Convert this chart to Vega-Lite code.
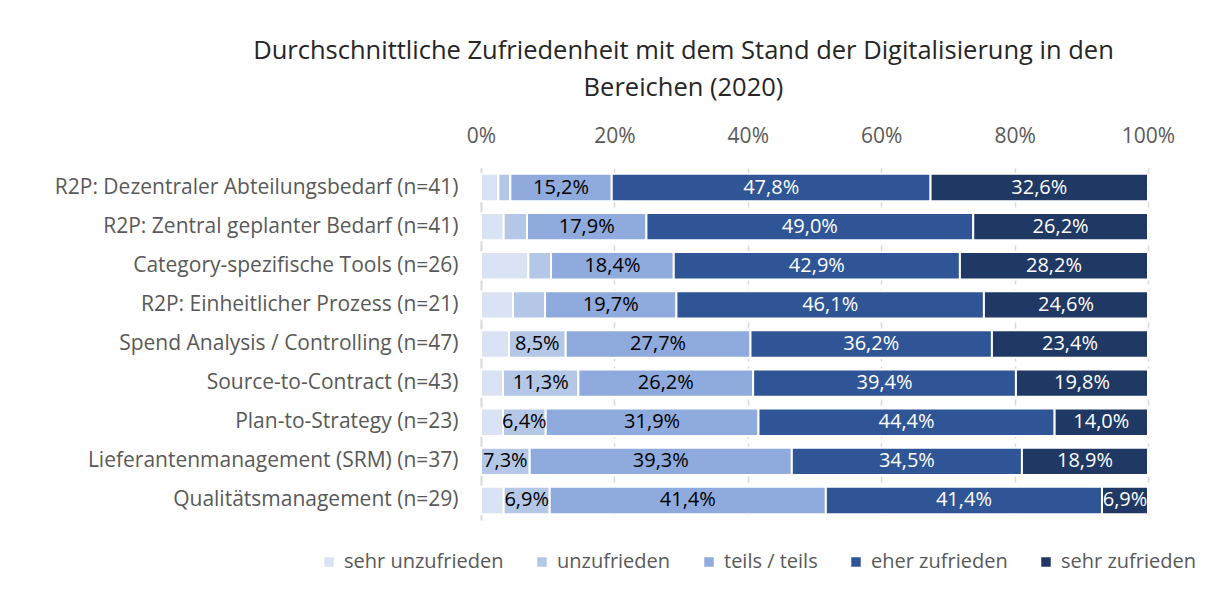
{
  "$schema": "https://vega.github.io/schema/vega-lite/v6.json",
  "width": 667,
  "height": 352,
  "autosize": {"type": "none"},
  "padding": {"left": 481, "top": 168, "right": 59, "bottom": 90},
  "background": "white",
  "title": {
    "text": ["Durchschnittliche Zufriedenheit mit dem Stand der Digitalisierung in den", "Bereichen (2020)"],
    "font": "Open Sans",
    "fontSize": 25.5,
    "fontWeight": "normal",
    "color": "#262626",
    "anchor": "middle",
    "dx": -131,
    "offset": 24,
    "lineHeight": 37
  },
  "config": {
    "view": {"stroke": null},
    "font": "Open Sans"
  },
  "data": {
    "values": [
      {"cat": "R2P: Dezentraler Abteilungsbedarf (n=41)", "level": "sehr unzufrieden", "o": 1, "value": 2.6},
      {"cat": "R2P: Dezentraler Abteilungsbedarf (n=41)", "level": "unzufrieden", "o": 2, "value": 1.8},
      {"cat": "R2P: Dezentraler Abteilungsbedarf (n=41)", "level": "teils / teils", "o": 3, "value": 15.2},
      {"cat": "R2P: Dezentraler Abteilungsbedarf (n=41)", "level": "eher zufrieden", "o": 4, "value": 47.8},
      {"cat": "R2P: Dezentraler Abteilungsbedarf (n=41)", "level": "sehr zufrieden", "o": 5, "value": 32.6},
      {"cat": "R2P: Zentral geplanter Bedarf (n=41)", "level": "sehr unzufrieden", "o": 1, "value": 3.4},
      {"cat": "R2P: Zentral geplanter Bedarf (n=41)", "level": "unzufrieden", "o": 2, "value": 3.5},
      {"cat": "R2P: Zentral geplanter Bedarf (n=41)", "level": "teils / teils", "o": 3, "value": 17.9},
      {"cat": "R2P: Zentral geplanter Bedarf (n=41)", "level": "eher zufrieden", "o": 4, "value": 49.0},
      {"cat": "R2P: Zentral geplanter Bedarf (n=41)", "level": "sehr zufrieden", "o": 5, "value": 26.2},
      {"cat": "Category-spezifische Tools (n=26)", "level": "sehr unzufrieden", "o": 1, "value": 7.1},
      {"cat": "Category-spezifische Tools (n=26)", "level": "unzufrieden", "o": 2, "value": 3.4},
      {"cat": "Category-spezifische Tools (n=26)", "level": "teils / teils", "o": 3, "value": 18.4},
      {"cat": "Category-spezifische Tools (n=26)", "level": "eher zufrieden", "o": 4, "value": 42.9},
      {"cat": "Category-spezifische Tools (n=26)", "level": "sehr zufrieden", "o": 5, "value": 28.2},
      {"cat": "R2P: Einheitlicher Prozess (n=21)", "level": "sehr unzufrieden", "o": 1, "value": 4.8},
      {"cat": "R2P: Einheitlicher Prozess (n=21)", "level": "unzufrieden", "o": 2, "value": 4.8},
      {"cat": "R2P: Einheitlicher Prozess (n=21)", "level": "teils / teils", "o": 3, "value": 19.7},
      {"cat": "R2P: Einheitlicher Prozess (n=21)", "level": "eher zufrieden", "o": 4, "value": 46.1},
      {"cat": "R2P: Einheitlicher Prozess (n=21)", "level": "sehr zufrieden", "o": 5, "value": 24.6},
      {"cat": "Spend Analysis / Controlling (n=47)", "level": "sehr unzufrieden", "o": 1, "value": 4.2},
      {"cat": "Spend Analysis / Controlling (n=47)", "level": "unzufrieden", "o": 2, "value": 8.5},
      {"cat": "Spend Analysis / Controlling (n=47)", "level": "teils / teils", "o": 3, "value": 27.7},
      {"cat": "Spend Analysis / Controlling (n=47)", "level": "eher zufrieden", "o": 4, "value": 36.2},
      {"cat": "Spend Analysis / Controlling (n=47)", "level": "sehr zufrieden", "o": 5, "value": 23.4},
      {"cat": "Source-to-Contract (n=43)", "level": "sehr unzufrieden", "o": 1, "value": 3.3},
      {"cat": "Source-to-Contract (n=43)", "level": "unzufrieden", "o": 2, "value": 11.3},
      {"cat": "Source-to-Contract (n=43)", "level": "teils / teils", "o": 3, "value": 26.2},
      {"cat": "Source-to-Contract (n=43)", "level": "eher zufrieden", "o": 4, "value": 39.4},
      {"cat": "Source-to-Contract (n=43)", "level": "sehr zufrieden", "o": 5, "value": 19.8},
      {"cat": "Plan-to-Strategy (n=23)", "level": "sehr unzufrieden", "o": 1, "value": 3.3},
      {"cat": "Plan-to-Strategy (n=23)", "level": "unzufrieden", "o": 2, "value": 6.4},
      {"cat": "Plan-to-Strategy (n=23)", "level": "teils / teils", "o": 3, "value": 31.9},
      {"cat": "Plan-to-Strategy (n=23)", "level": "eher zufrieden", "o": 4, "value": 44.4},
      {"cat": "Plan-to-Strategy (n=23)", "level": "sehr zufrieden", "o": 5, "value": 14.0},
      {"cat": "Lieferantenmanagement (SRM) (n=37)", "level": "sehr unzufrieden", "o": 1, "value": 0},
      {"cat": "Lieferantenmanagement (SRM) (n=37)", "level": "unzufrieden", "o": 2, "value": 7.3},
      {"cat": "Lieferantenmanagement (SRM) (n=37)", "level": "teils / teils", "o": 3, "value": 39.3},
      {"cat": "Lieferantenmanagement (SRM) (n=37)", "level": "eher zufrieden", "o": 4, "value": 34.5},
      {"cat": "Lieferantenmanagement (SRM) (n=37)", "level": "sehr zufrieden", "o": 5, "value": 18.9},
      {"cat": "Qualitätsmanagement (n=29)", "level": "sehr unzufrieden", "o": 1, "value": 3.4},
      {"cat": "Qualitätsmanagement (n=29)", "level": "unzufrieden", "o": 2, "value": 6.9},
      {"cat": "Qualitätsmanagement (n=29)", "level": "teils / teils", "o": 3, "value": 41.4},
      {"cat": "Qualitätsmanagement (n=29)", "level": "eher zufrieden", "o": 4, "value": 41.4},
      {"cat": "Qualitätsmanagement (n=29)", "level": "sehr zufrieden", "o": 5, "value": 6.9}
    ]
  },
  "transform": [
    {"stack": "value", "groupby": ["cat"], "sort": [{"field": "o", "order": "ascending"}], "as": ["x0", "x1"]},
    {"calculate": "(datum.x0 + datum.x1) / 2", "as": "xm"},
    {"calculate": "replace(format(datum.value, '.1f'), '.', ',') + '%'", "as": "lbl"}
  ],
  "encoding": {
    "y": {
      "field": "cat",
      "type": "nominal",
      "sort": null,
      "title": null,
      "scale": {"paddingInner": 0.3, "paddingOuter": 0.15},
      "axis": {
        "ticks": false,
        "domain": true,
        "domainColor": "#D9D9D9",
        "domainWidth": 2,
        "labelFont": "Open Sans",
        "labelFontSize": 21,
        "labelColor": "#595959",
        "labelPadding": 23,
        "labelLimit": 500
      }
    }
  },
  "layer": [
    {
      "mark": {"type": "bar", "stroke": "white", "strokeWidth": 2},
      "encoding": {
        "x": {
          "field": "x0",
          "type": "quantitative",
          "scale": {"domain": [0, 100], "nice": false},
          "title": null,
          "axis": {
            "orient": "top",
            "values": [0, 20, 40, 60, 80, 100],
            "labelExpr": "datum.value + '%'",
            "labelFlush": false,
            "ticks": false,
            "domain": false,
            "grid": true,
            "gridColor": "#D9D9D9",
            "gridWidth": 1.5,
            "gridDash": [6, 5],
            "labelFont": "Open Sans",
            "labelFontSize": 21,
            "labelColor": "#595959",
            "labelPadding": 22
          }
        },
        "x2": {"field": "x1"},
        "color": {
          "field": "level",
          "type": "nominal",
          "sort": ["sehr unzufrieden", "unzufrieden", "teils / teils", "eher zufrieden", "sehr zufrieden"],
          "scale": {
            "domain": ["sehr unzufrieden", "unzufrieden", "teils / teils", "eher zufrieden", "sehr zufrieden"],
            "range": ["#DAE3F3", "#B4C7E7", "#8FAADC", "#2F5597", "#203864"]
          },
          "legend": {
            "title": null,
            "orient": "none",
            "direction": "horizontal",
            "legendX": -162,
            "legendY": 384,
            "symbolType": "square",
            "symbolSize": 90,
            "symbolStrokeWidth": 0,
            "labelFont": "Open Sans",
            "labelFontSize": 20,
            "labelColor": "#595959",
            "labelOffset": 5,
            "labelLimit": 400,
            "columnPadding": 28
          }
        }
      }
    },
    {
      "transform": [{"filter": "datum.o > 1 && datum.value >= 6"}],
      "mark": {"type": "text", "font": "Open Sans", "fontSize": 20, "align": "center", "baseline": "middle"},
      "encoding": {
        "x": {"field": "xm", "type": "quantitative"},
        "text": {"field": "lbl", "type": "nominal"},
        "color": {"condition": {"test": "datum.o >= 4", "value": "white"}, "value": "black"}
      }
    }
  ]
}
